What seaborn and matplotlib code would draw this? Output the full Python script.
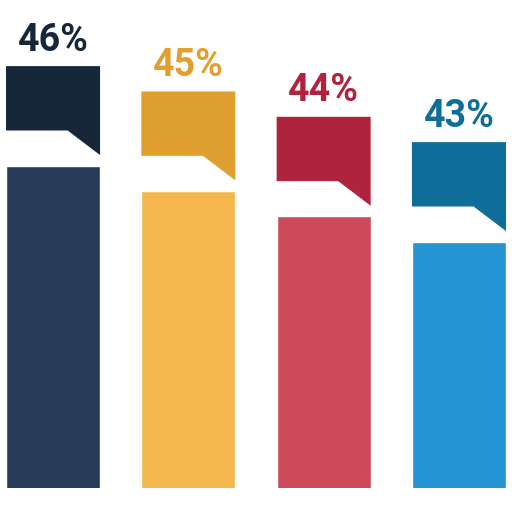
import pandas as pd
import matplotlib.pyplot as plt
import seaborn as sns

# data
groups = ["A", "B", "C", "D"]
values = [46, 45, 44, 43]
labels = ["46%", "45%", "44%", "43%"]
bar_colors = ["#263B58", "#F4B74E", "#CD4A5B", "#2494D3"]
tab_colors = ["#152739", "#E0A030", "#B0233E", "#0F6E99"]

df = pd.DataFrame({"group": groups, "value": values})

sns.set_theme(style="white")
plt.rcParams["font.family"] = ["Roboto", "DejaVu Sans"]

fig = plt.figure(figsize=(5.12, 5.12), dpi=100)
ax = fig.add_axes([0, 24 / 512, 1, 488 / 512])

sns.barplot(data=df, x="group", y="value", hue="group", palette=bar_colors,
            width=0.695, legend=False, ax=ax, saturation=1)

ax.set_xlim(-0.392, 3.392)
ax.set_ylim(33.28, 52.54)

# speech-bubble tabs and labels above each bar
for bar, v, lab, tc in zip(ax.patches, values, labels, tab_colors):
    left = bar.get_x()
    right = left + bar.get_width()
    notch = left + 0.655 * bar.get_width()
    top = v + 3.93
    bottom = v + 1.39
    tip = v + 0.42
    ax.fill([left, right, right, notch, left],
            [top, top, tip, bottom, bottom], color=tc, lw=0)
    ax.text(left + bar.get_width() / 2, v + 4.95, lab, color=tc,
            ha="center", va="center", fontsize=27, fontweight="bold")

ax.axis("off")
fig.savefig("out.png", dpi=100)
